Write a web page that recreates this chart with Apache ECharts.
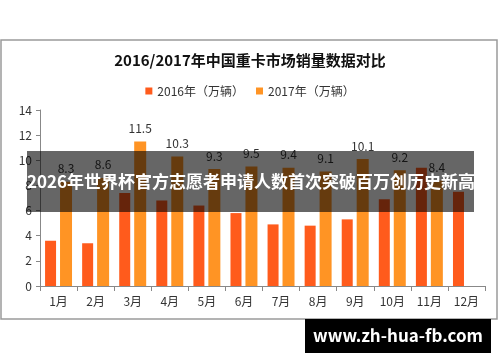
<!DOCTYPE html>
<html>
<head>
<meta charset="utf-8">
<script src="https://cdn.jsdelivr.net/npm/echarts@6/dist/echarts.min.js"></script>
<style>html,body{margin:0;padding:0;background:#fff;}#c{width:500px;height:362px;}</style>
</head>
<body>
<div id="c"></div>
<script>
const categories = ['1月','2月','3月','4月','5月','6月','7月','8月','9月','10月','11月','12月'];
const sales2016 = [3.6, 3.4, 7.4, 6.8, 6.4, 5.8, 4.9, 4.8, 5.3, 6.9, 9.4, 7.5];
const sales2017 = [8.3, 8.6, 11.5, 10.3, 9.3, 9.5, 9.4, 9.1, 10.1, 9.2, 8.4, null];
const yTicks = [0, 2, 4, 6, 8, 10, 12, 14];
const titleText = '2016/2017年中国重卡市场销量数据对比';
const seriesNames = ['2016年（万辆）', '2017年（万辆）'];
const bannerText = '2026年世界杯官方志愿者申请人数首次突破百万创历史新高';
const siteText = 'www.zh-hua-fb.com';

const font = '"Noto Sans CJK SC", "Noto Sans", sans-serif';
const chart = echarts.init(document.getElementById('c'));
chart.setOption({
  animation: false,
  textStyle: { fontFamily: font },
  title: {
    text: titleText, left: 'center', top: 48,
    textStyle: { fontSize: 15, fontWeight: 'bold', color: '#111', fontFamily: font }
  },
  legend: {
    top: 80, left: 'center', itemWidth: 7, itemHeight: 7, itemGap: 12,
    icon: 'rect',
    textStyle: { fontSize: 12, color: '#333', fontFamily: font },
    data: seriesNames
  },
  grid: { left: 40, right: 15, top: 110, bottom: 76, containLabel: false },
  xAxis: {
    type: 'category', data: categories,
    axisLine: { lineStyle: { color: '#888' } },
    axisTick: { show: true, length: 5, lineStyle: { color: '#888' } },
    axisLabel: { fontSize: 12, color: '#333', margin: 9 }
  },
  yAxis: {
    type: 'value', min: yTicks[0], max: yTicks[yTicks.length - 1], interval: 2,
    axisLine: { show: true, lineStyle: { color: '#888' } },
    axisTick: { show: true, length: 4, lineStyle: { color: '#888' } },
    splitLine: { show: false },
    axisLabel: { fontSize: 12, color: '#333', margin: 8 }
  },
  series: [
    {
      name: seriesNames[0], type: 'bar', data: sales2016,
      barWidth: 11, barGap: '36%',
      itemStyle: { color: '#FF5B1C' }
    },
    {
      name: seriesNames[1], type: 'bar', data: sales2017,
      barWidth: 12,
      itemStyle: { color: '#FF9424' },
      label: { show: true, position: 'top', distance: 7, fontSize: 12, color: '#333' }
    }
  ],
  graphic: [
    { type: 'rect', z: 50, shape: { x: 1, y: 40, width: 496, height: 279 },
      style: { fill: 'none', stroke: '#9a9a9a', lineWidth: 1.5 } },
    { type: 'rect', z: 100, shape: { x: 27, y: 151, width: 447, height: 61 },
      style: { fill: 'rgba(0,0,0,0.6)' } },
    { type: 'text', z: 101, x: 27, y: 182,
      style: { text: bannerText, fill: '#fff', font: 'bold 17px ' + font, textVerticalAlign: 'middle', textAlign: 'left' } },
    { type: 'rect', z: 100, shape: { x: 305, y: 319, width: 186, height: 34 },
      style: { fill: '#000' } },
    { type: 'text', z: 101, x: 398, y: 336,
      style: { text: siteText, fill: '#fff', font: 'bold 17px ' + font, textAlign: 'center', textVerticalAlign: 'middle' } }
  ]
});
</script>
</body>
</html>
